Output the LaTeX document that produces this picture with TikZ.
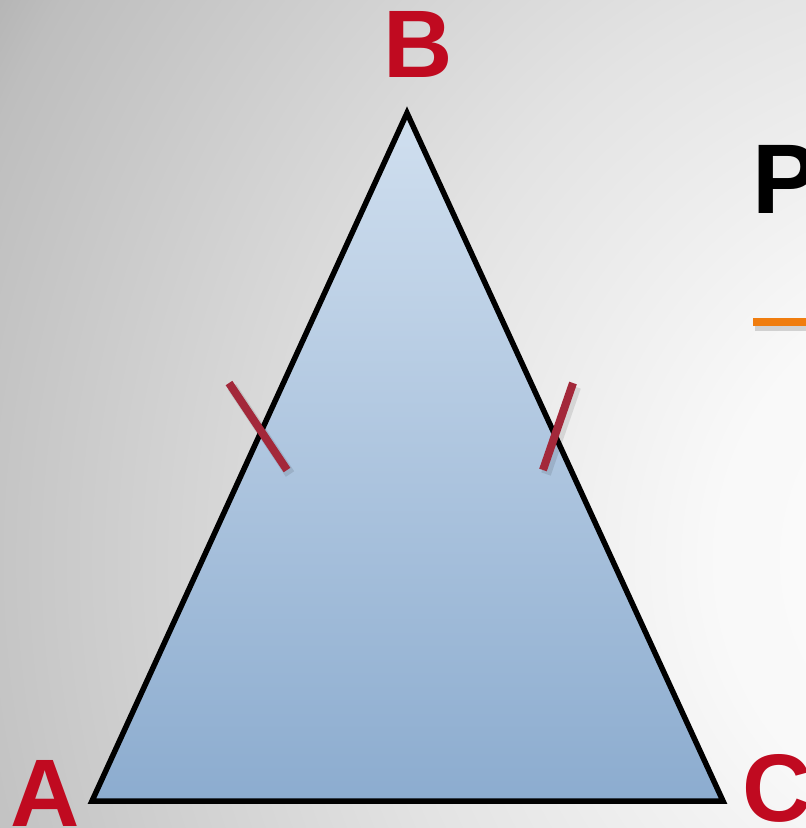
\documentclass[tikz,border=0pt]{standalone}
\usepackage{fontspec}
\newfontfamily\labelfont{Liberation Sans}
\usetikzlibrary{calc}

\definecolor{labelred}{RGB}{192,10,32}
\definecolor{tickred}{RGB}{163,40,58}
\definecolor{triTop}{RGB}{208,223,239}
\definecolor{triBot}{RGB}{140,172,207}
\definecolor{barorange}{RGB}{240,125,15}
\definecolor{bgA}{gray}{0.99}
\definecolor{bgB}{gray}{0.975}
\definecolor{bgC}{gray}{0.89}
\definecolor{bgD}{gray}{0.745}
\definecolor{bgE}{gray}{0.66}

\pgfdeclareradialshading{backdrop}{\pgfpoint{0bp}{0bp}}{%
   color(0bp)=(bgA); color(5.5bp)=(bgB); color(12bp)=(bgC);
   color(21bp)=(bgD); color(23.75bp)=(bgE); color(50bp)=(bgE)}

\begin{document}
\begin{tikzpicture}[
   x=1pt,
   y=-1pt,
   line width=5.5pt,
   vertex/.style={
      text=labelred,
      inner sep=0pt,
      anchor=base,
      font=\labelfont\bfseries\fontsize{96}{96}\selectfont
   },
   tick/.style={
      draw=tickred,
      line width=8pt
   }
]

   \useasboundingbox (0,0) rectangle (806,828);

   % Backdrop
   \begin{scope}
      \clip (0,0) rectangle (806,828);
      \shade[shading=backdrop] (1000,560) circle (1300pt);
   \end{scope}

   % Corners
   \coordinate (A) at (92,801);
   \coordinate (B) at (407,113);
   \coordinate (C) at (723,801);

   % Shadow under the triangle
   \foreach \d in {3,6,...,15}
   {
      \fill[black,opacity=0.07,shift={(0,\d)}] (A) -- (B) -- (C) -- cycle;
   }

   % Triangle
   \shade[top color=triTop, bottom color=triBot] (A) -- (B) -- (C) -- cycle;
   \draw[black] (A) -- (B) -- (C) -- cycle;

   % Equal sides
   \draw[tick,draw=black,opacity=0.1,line width=10pt]
      (232,387) -- (290,474);
   \draw[tick,draw=black,opacity=0.1,line width=10pt]
      (576,387) -- (546,474);

   \draw[tick] (229,383) -- (287,470);
   \draw[tick] (573,383) -- (543,470);

   % Labels
   \node[vertex] (labB) at (418,77) {B};
   \node[vertex] (labA) at (45,826) {A};
   \node[vertex] (labC) at (777,821) {C};

   % Title, cut at the edge
   \node[
      inner sep=0pt,
      anchor=base west,
      font=\labelfont\bfseries\fontsize{99}{99}\selectfont
   ] (title) at (750,213) {P};

   \fill[black,opacity=0.15] (755,322) rectangle (806,331);
   \fill[barorange] (753,317.5) rectangle (806,325.5);

\end{tikzpicture}
\end{document}
